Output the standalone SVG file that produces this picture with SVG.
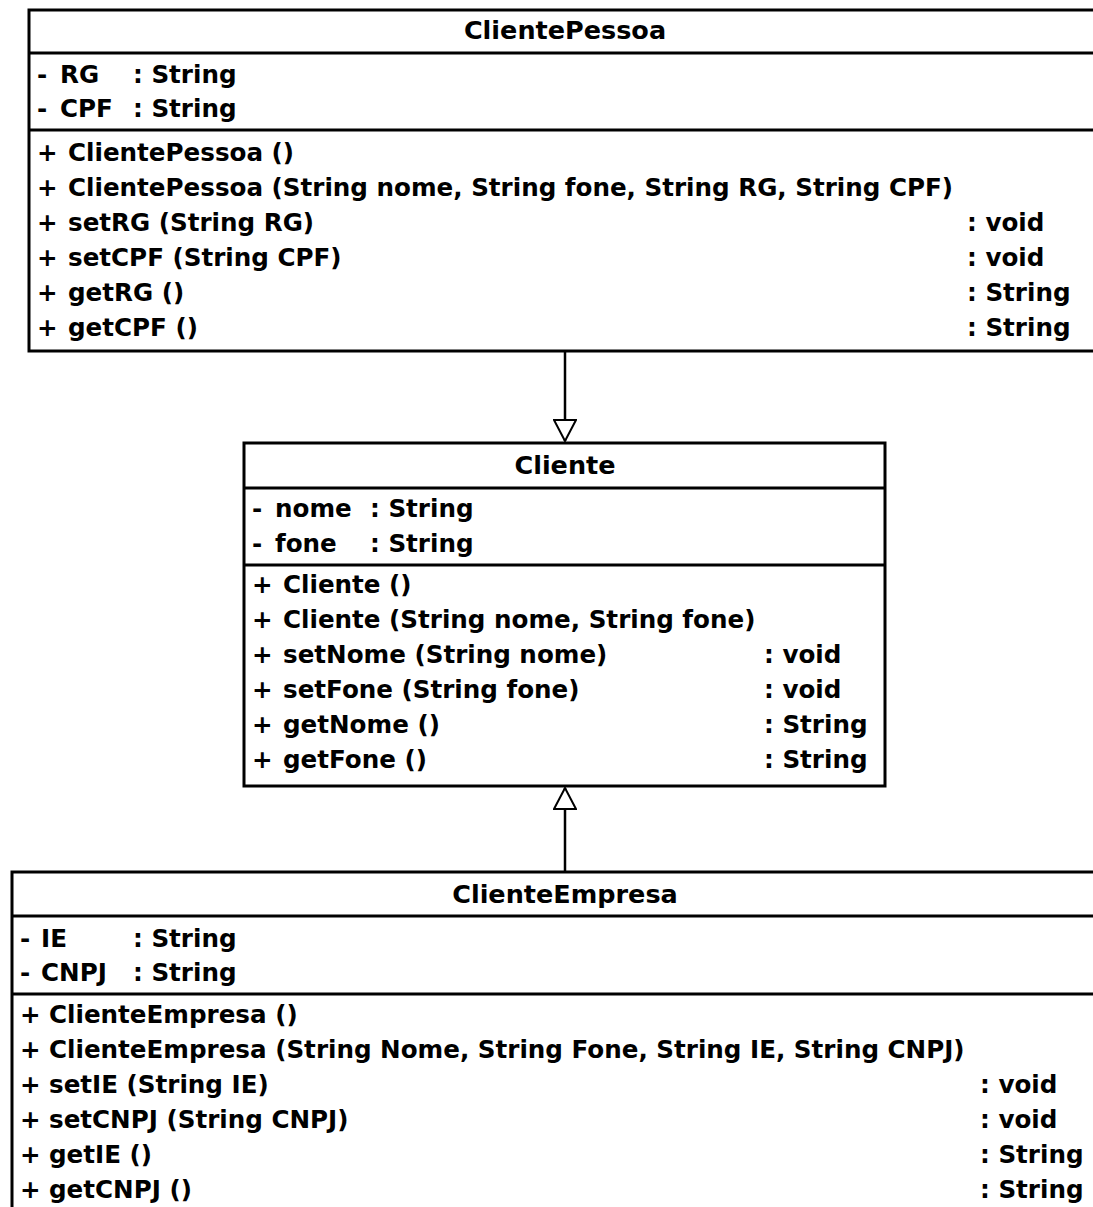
<svg xmlns="http://www.w3.org/2000/svg" width="1093" height="1207" viewBox="0 0 1093 1207">
<style>
text{font-family:"DejaVu Sans","Liberation Sans",sans-serif;font-weight:bold;font-size:24.6px;fill:#000}
.h{text-anchor:middle;font-size:25.5px}
.box{fill:#fff;stroke:#000;stroke-width:3}
.sep{stroke:#000;stroke-width:3}
.conn{stroke:#000;stroke-width:2.5;fill:none}
</style>
<defs>
<marker id="tri" viewBox="0 0 24 24" markerWidth="24" markerHeight="24" refX="22" refY="12" orient="auto" markerUnits="userSpaceOnUse">
<path d="M1,1 L22,12 L1,23 Z" fill="#fff" stroke="#000" stroke-width="2"/>
</marker>
</defs>
<rect width="1093" height="1207" fill="#fff"/>
<g id="connectors">
<line class="conn" x1="565" y1="351" x2="565" y2="441" marker-end="url(#tri)"/>
<line class="conn" x1="565" y1="872" x2="565" y2="788" marker-end="url(#tri)"/>
</g>
<g id="ClientePessoa">
<rect class="box" x="29" y="10" width="1090" height="341"/>
<line class="sep" x1="29" y1="53" x2="1093" y2="53"/>
<line class="sep" x1="29" y1="130" x2="1093" y2="130"/>
<text class="h" x="565" y="39">ClientePessoa</text>
<text x="37" y="83">-</text><text x="60" y="83">RG</text><text x="133" y="83">: String</text>
<text x="37" y="117">-</text><text x="60" y="117">CPF</text><text x="133" y="117">: String</text>
<text x="37" y="161">+</text><text x="68" y="161">ClientePessoa ()</text>
<text x="37" y="196">+</text><text x="68" y="196">ClientePessoa (String nome, String fone, String RG, String CPF)</text>
<text x="37" y="231">+</text><text x="68" y="231">setRG (String RG)</text><text x="967" y="231">: void</text>
<text x="37" y="266">+</text><text x="68" y="266">setCPF (String CPF)</text><text x="967" y="266">: void</text>
<text x="37" y="301">+</text><text x="68" y="301">getRG ()</text><text x="967" y="301">: String</text>
<text x="37" y="336">+</text><text x="68" y="336">getCPF ()</text><text x="967" y="336">: String</text>
</g>
<g id="Cliente">
<rect class="box" x="244" y="443" width="641" height="343"/>
<line class="sep" x1="244" y1="488" x2="885" y2="488"/>
<line class="sep" x1="244" y1="565" x2="885" y2="565"/>
<text class="h" x="565" y="474">Cliente</text>
<text x="252" y="517">-</text><text x="275" y="517">nome</text><text x="370" y="517">: String</text>
<text x="252" y="552">-</text><text x="275" y="552">fone</text><text x="370" y="552">: String</text>
<text x="252" y="593">+</text><text x="283" y="593">Cliente ()</text>
<text x="252" y="628">+</text><text x="283" y="628">Cliente (String nome, String fone)</text>
<text x="252" y="663">+</text><text x="283" y="663">setNome (String nome)</text><text x="764" y="663">: void</text>
<text x="252" y="698">+</text><text x="283" y="698">setFone (String fone)</text><text x="764" y="698">: void</text>
<text x="252" y="733">+</text><text x="283" y="733">getNome ()</text><text x="764" y="733">: String</text>
<text x="252" y="768">+</text><text x="283" y="768">getFone ()</text><text x="764" y="768">: String</text>
</g>
<g id="ClienteEmpresa">
<rect class="box" x="12" y="872" width="1100" height="360"/>
<line class="sep" x1="12" y1="916" x2="1093" y2="916"/>
<line class="sep" x1="12" y1="994" x2="1093" y2="994"/>
<text class="h" x="565" y="903">ClienteEmpresa</text>
<text x="20" y="947">-</text><text x="41" y="947">IE</text><text x="133" y="947">: String</text>
<text x="20" y="981">-</text><text x="41" y="981">CNPJ</text><text x="133" y="981">: String</text>
<text x="20" y="1023">+</text><text x="49" y="1023">ClienteEmpresa ()</text>
<text x="20" y="1058">+</text><text x="49" y="1058">ClienteEmpresa (String Nome, String Fone, String IE, String CNPJ)</text>
<text x="20" y="1093">+</text><text x="49" y="1093">setIE (String IE)</text><text x="980" y="1093">: void</text>
<text x="20" y="1128">+</text><text x="49" y="1128">setCNPJ (String CNPJ)</text><text x="980" y="1128">: void</text>
<text x="20" y="1163">+</text><text x="49" y="1163">getIE ()</text><text x="980" y="1163">: String</text>
<text x="20" y="1198">+</text><text x="49" y="1198">getCNPJ ()</text><text x="980" y="1198">: String</text>
</g>
</svg>
